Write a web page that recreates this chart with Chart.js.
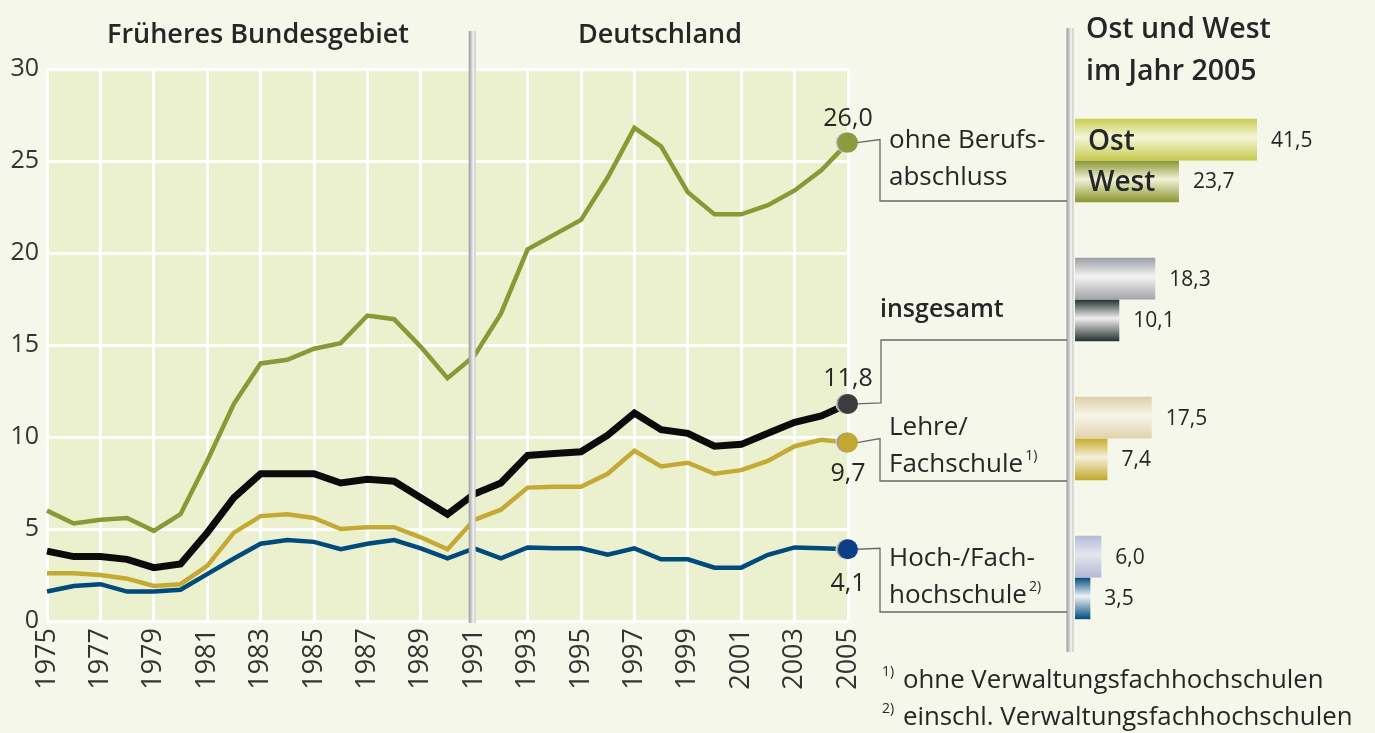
<!DOCTYPE html>
<html lang="de">
<head>
<meta charset="utf-8">
<title>Erwerbslosenquote nach Qualifikation</title>
<script src="https://cdn.jsdelivr.net/npm/chart.js@4.4.1/dist/chart.umd.min.js"></script>
<style>
  html, body { margin: 0; padding: 0; background: #f5f7ea; }
  #wrap { position: relative; width: 1375px; height: 733px; }
  #wrap canvas { position: absolute; left: 0; top: 0; }
</style>
</head>
<body>
<div id="wrap">
  <canvas id="lineChart" width="1375" height="733"></canvas>
  <canvas id="barChart" width="1375" height="733"></canvas>
</div>
<script>
// --- data ---
const years = ['1975','1976','1977','1978','1979','1980','1981','1982','1983','1984','1985',
  '1986','1987','1988','1989','1990','1991','1992','1993','1994','1995','1996','1997','1998',
  '1999','2000','2001','2002','2003','2004','2005'];
const ohneBerufsabschluss = [6.0,5.3,5.5,5.6,4.9,5.8,8.7,11.8,14.0,14.2,14.8,15.1,16.6,16.4,14.9,13.2,
  14.4,16.7,20.2,21.0,21.8,24.1,26.8,25.8,23.3,22.1,22.1,22.6,23.4,24.5,26.0];
const insgesamt = [3.8,3.5,3.5,3.35,2.9,3.1,4.8,6.7,8.0,8.0,8.0,7.5,7.7,7.6,6.7,5.8,
  6.9,7.5,9.0,9.1,9.2,10.1,11.3,10.4,10.2,9.5,9.6,10.2,10.8,11.15,11.8];
const lehreFachschule = [2.6,2.6,2.5,2.3,1.9,2.0,3.0,4.8,5.7,5.8,5.6,5.0,5.1,5.1,4.55,3.9,
  5.5,6.05,7.25,7.3,7.3,8.0,9.25,8.4,8.6,8.0,8.2,8.7,9.5,9.85,9.7];
const hochschule = [1.6,1.9,2.0,1.6,1.6,1.7,2.55,3.4,4.2,4.4,4.3,3.9,4.2,4.4,3.95,3.4,
  3.95,3.4,4.0,3.95,3.95,3.6,3.95,3.35,3.35,2.9,2.9,3.6,4.0,3.95,3.9];
const endValues = [26.0, 9.7, 4.1, 11.8]; // printed 2005 values, same order as datasets
const yTicks = [0, 5, 10, 15, 20, 25, 30];

const barCategories = ['ohne Berufsabschluss', 'insgesamt', 'Lehre/Fachschule', 'Hoch-/Fachhochschule'];
const ostValues = [41.5, 18.3, 17.5, 6.0];
const westValues = [23.7, 10.1, 7.4, 3.5];

const FONT = '"Open Sans", "Liberation Sans", sans-serif';
const TEXT = '#262626';
Chart.defaults.font.family = FONT;

const fmt = v => v.toFixed(1).replace('.', ',');

// colours per line series: line, marker
const seriesStyle = [
  { line: '#8a9836', marker: '#8d9b3c', width: 4.5 },
  { line: '#c4aa34', marker: '#c4a733', width: 4.5 },
  { line: '#004a7c', marker: '#0b3f8a', width: 4.5 },
  { line: '#0b0b0b', marker: '#3c3c3e', width: 7 }
];

function drawDivider(ctx, cx, y0, y1) {
  const g = ctx.createLinearGradient(cx - 3.5, 0, cx + 3.5, 0);
  g.addColorStop(0, '#9a9a9a');
  g.addColorStop(0.35, '#c6c6c6');
  g.addColorStop(0.65, '#f4f4f4');
  g.addColorStop(1, '#c2c2c2');
  ctx.fillStyle = g;
  ctx.fillRect(cx - 3.5, y0, 7, y1 - y0);
}

function text(ctx, s, x, y, size, weight, align) {
  ctx.font = (weight || 'normal') + ' ' + size + 'px ' + FONT;
  ctx.textAlign = align || 'left';
  ctx.textBaseline = 'alphabetic';
  ctx.fillStyle = TEXT;
  ctx.fillText(s, x, y);
  return ctx.measureText(s).width;
}

const decor = {
  id: 'decor',
  beforeDraw(chart) {
    const { ctx, chartArea: a } = chart;
    ctx.save();
    ctx.fillStyle = '#ebf1cf';
    ctx.fillRect(a.left, a.top, a.right - a.left, a.bottom - a.top);
    ctx.restore();
  },
  afterDatasetsDraw(chart) {
    const { ctx, chartArea: a, scales: { x } } = chart;
    ctx.save();
    // Trennlinie 1991 und rechte Trennlinie
    drawDivider(ctx, x.getPixelForValue(years.indexOf('1991')) - 2, 31, a.bottom + 2);
    drawDivider(ctx, 1070, 28, 652);

    // Endpunkte, Werte, Verbindungslinien
    const leaders = [
      { labelDy: -17, pts: [[880, -3], [880, 201], [1067, 201]] },
      { labelDy: 38, pts: [[880, -4], [880, 481], [1067, 481]] },
      { labelDy: 42, pts: [[880, -1], [880, 612], [1067, 612]] },
      { labelDy: -18, pts: [[881, -1], [881, 340], [1067, 340]] }
    ];
    chart.data.datasets.forEach((ds, i) => {
      const meta = chart.getDatasetMeta(i);
      const pt = meta.data[meta.data.length - 1];
      const L = leaders[i];
      // leader line
      ctx.strokeStyle = '#6a6a6a';
      ctx.lineWidth = 1.3;
      ctx.beginPath();
      ctx.moveTo(pt.x + 9, pt.y);
      ctx.lineTo(L.pts[0][0], pt.y + L.pts[0][1]);
      ctx.lineTo(L.pts[1][0], L.pts[1][1]);
      ctx.lineTo(L.pts[2][0], L.pts[2][1]);
      ctx.stroke();
      // marker with light rim on the left
      ctx.fillStyle = '#dcdcdc';
      ctx.beginPath(); ctx.arc(pt.x - 2.5, pt.y, 10, 0, Math.PI * 2); ctx.fill();
      ctx.fillStyle = '#9a9a9a';
      ctx.beginPath(); ctx.arc(pt.x - 1.5, pt.y, 10, 0, Math.PI * 2); ctx.fill();
      ctx.fillStyle = seriesStyle[i].marker;
      ctx.beginPath(); ctx.arc(pt.x, pt.y, 10, 0, Math.PI * 2); ctx.fill();
      // value
      text(ctx, fmt(endValues[i]), pt.x, pt.y + L.labelDy, 25, 'normal', 'center');
    });

    // titles
    text(ctx, 'Früheres Bundesgebiet', 258, 43, 27, '600', 'center');
    text(ctx, 'Deutschland', 660, 43, 27, '600', 'center');
    text(ctx, 'Ost und West', 1086, 38, 28.5, '600');
    text(ctx, 'im Jahr 2005', 1086, 80, 28.5, '600');

    // category labels
    text(ctx, 'ohne Berufs-', 889, 148, 26);
    text(ctx, 'abschluss', 889, 185, 26);
    text(ctx, 'insgesamt', 880, 317, 25, '600');
    text(ctx, 'Lehre/', 889, 435, 26);
    let w = text(ctx, 'Fachschule', 889, 472, 26);
    text(ctx, '1)', 889 + w + 2, 460, 14);
    text(ctx, 'Hoch-/Fach-', 889, 566, 26);
    w = text(ctx, 'hochschule', 889, 603, 26);
    text(ctx, '2)', 889 + w + 2, 591, 14);

    // footnotes
    text(ctx, '1)', 882, 676, 14);
    text(ctx, 'ohne Verwaltungsfachhochschulen', 903, 688, 25.8);
    text(ctx, '2)', 882, 713, 14);
    text(ctx, 'einschl. Verwaltungsfachhochschulen', 903, 725, 25.8);
    ctx.restore();
  }
};

const lineSeries = [ohneBerufsabschluss, lehreFachschule, hochschule, insgesamt];
const lineNames = ['ohne Berufsabschluss', 'Lehre/Fachschule', 'Hoch-/Fachhochschule', 'insgesamt'];

new Chart(document.getElementById('lineChart'), {
  type: 'line',
  data: {
    labels: years,
    datasets: lineSeries.map((d, i) => ({
      label: lineNames[i],
      data: d,
      borderColor: seriesStyle[i].line,
      borderWidth: seriesStyle[i].width,
      pointRadius: 0,
      tension: 0,
      clip: false
    }))
  },
  options: {
    responsive: false,
    animation: false,
    layout: { padding: { left: 0, top: 69, right: 527, bottom: 0 } },
    plugins: { legend: { display: false }, tooltip: { enabled: false } },
    scales: {
      x: {
        type: 'category',
        afterFit: s => { s.height = 112; },
        border: { display: false },
        grid: {
          color: c => (c.index % 2 === 0 ? '#ffffff' : 'rgba(0,0,0,0)'),
          lineWidth: 3,
          drawTicks: false
        },
        ticks: {
          autoSkip: false,
          minRotation: 90,
          maxRotation: 90,
          padding: 7,
          color: '#333',
          font: { size: 27 },
          callback: (v, i) => (i % 2 === 0 ? years[i] : '')
        }
      },
      y: {
        min: 0,
        max: 30,
        afterFit: s => { s.width = 47; },
        afterBuildTicks: s => { s.ticks = yTicks.map(v => ({ value: v })); },
        border: { display: false },
        grid: { color: '#ffffff', lineWidth: 3, drawTicks: false },
        ticks: { padding: 8, color: '#333', font: { size: 25 } }
      }
    }
  },
  plugins: [decor]
});

// --- bar chart Ost / West ---
const barColors = [
  [['#c9cd55', '#f4f6d8', '#c5c94c'], ['#9c9ea3', '#f4f4f4', '#a2a4a8'],
   ['#ddd0aa', '#f8f4e8', '#e0d3ad'], ['#b6bad6', '#e4e6f0', '#b4b8d4']],
  [['#87942e', '#f0f2d8', '#8a952e'], ['#243030', '#efefef', '#263030'],
   ['#c6ad2a', '#f5f0dc', '#c2a828'], ['#004c7c', '#eef2f6', '#004c7c']]
];

function barGradient(c) {
  if (c.type !== 'data') return '#cccccc';
  const chart = c.chart;
  const cols = barColors[c.datasetIndex][c.dataIndex];
  const y = chart.scales.y;
  if (!y || !chart.chartArea) return cols[0];
  const slot = y.getPixelForValue(1) - y.getPixelForValue(0);
  const h = slot * 0.6 / 2;
  const mid = y.getPixelForValue(c.dataIndex);
  const top = c.datasetIndex === 0 ? mid - h : mid;
  const g = chart.ctx.createLinearGradient(0, top, 0, top + h);
  g.addColorStop(0, cols[0]);
  g.addColorStop(0.45, cols[1]);
  g.addColorStop(1, cols[2]);
  return g;
}

const barLabels = {
  id: 'barLabels',
  afterDatasetsDraw(chart) {
    const ctx = chart.ctx;
    ctx.save();
    chart.data.datasets.forEach((ds, di) => {
      chart.getDatasetMeta(di).data.forEach((bar, i) => {
        ctx.font = '21px ' + FONT;
        ctx.fillStyle = TEXT;
        ctx.textAlign = 'left';
        ctx.textBaseline = 'middle';
        ctx.fillText(fmt(ds.data[i]), bar.x + 14, bar.y + 1);
        if (i === 0) {
          ctx.font = '600 28px ' + FONT;
          ctx.fillText(ds.label, bar.base + 13, bar.y + 2);
        }
      });
    });
    ctx.restore();
  }
};

new Chart(document.getElementById('barChart'), {
  type: 'bar',
  data: {
    labels: barCategories,
    datasets: [
      { label: 'Ost', data: ostValues, backgroundColor: barGradient },
      { label: 'West', data: westValues, backgroundColor: barGradient }
    ]
  },
  options: {
    indexAxis: 'y',
    responsive: false,
    animation: false,
    layout: { padding: { left: 1075, right: 0, top: 91, bottom: 86 } },
    datasets: { bar: { categoryPercentage: 0.6, barPercentage: 1, borderWidth: 0 } },
    plugins: { legend: { display: false }, tooltip: { enabled: false } },
    scales: {
      x: { display: false, min: 0, max: 68.4 },
      y: { display: false }
    }
  },
  plugins: [barLabels]
});
</script>
</body>
</html>
